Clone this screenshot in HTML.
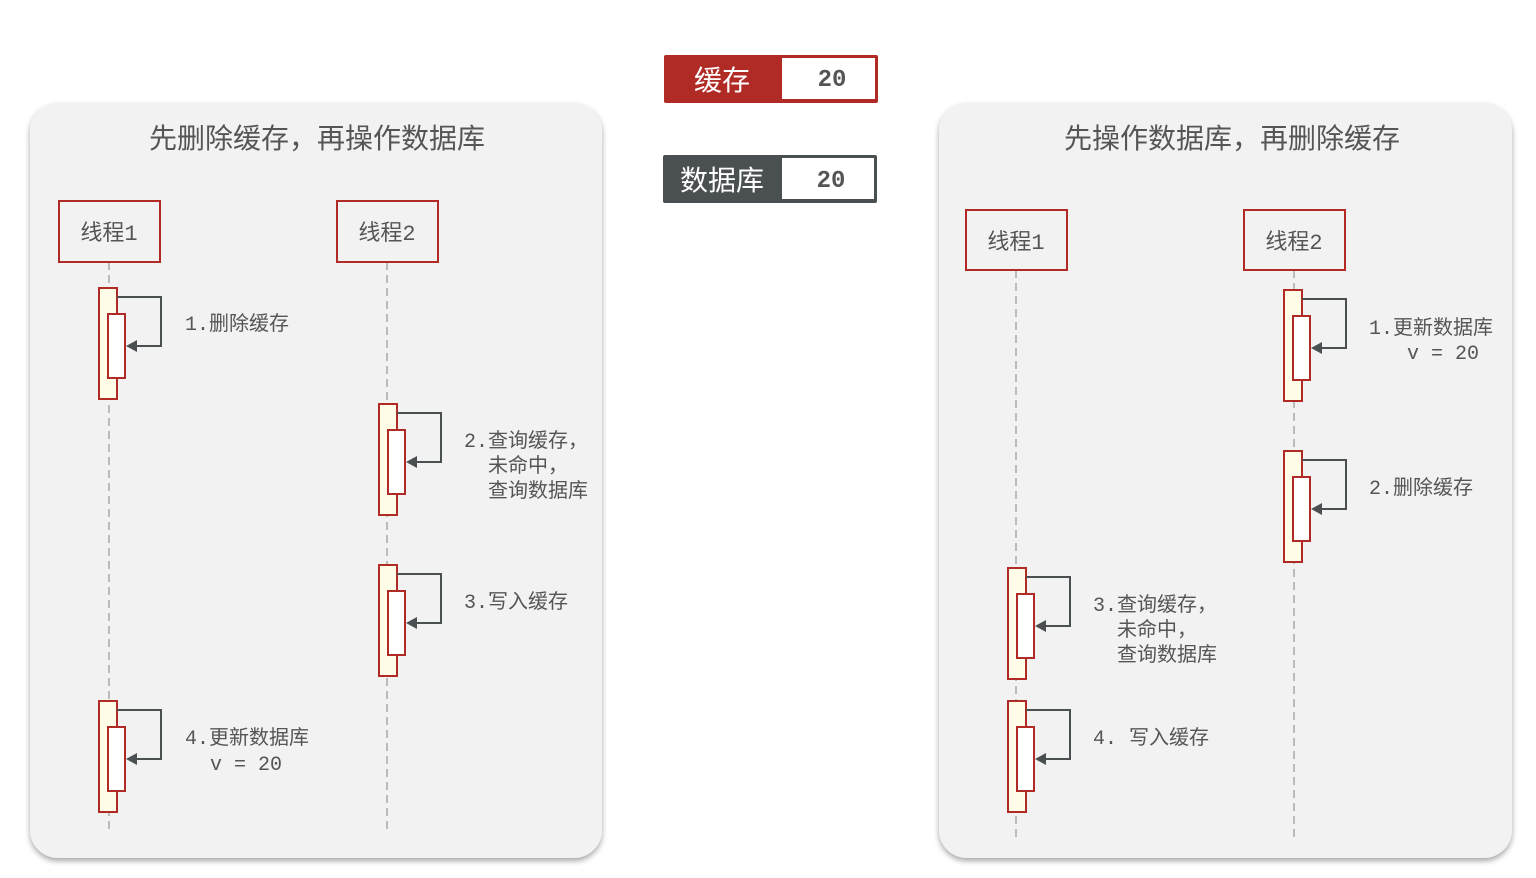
<!DOCTYPE html>
<html><head><meta charset="utf-8"><style>
body{margin:0;background:#fff;width:1536px;height:873px;overflow:hidden}
svg text{font-family:"Liberation Mono","Noto Sans CJK SC",monospace;fill:#555}
</style></head><body>
<svg width="1536" height="873" viewBox="0 0 1536 873" xmlns="http://www.w3.org/2000/svg">
<defs>
<filter id="sh" x="-5%" y="-5%" width="110%" height="110%"><feDropShadow dx="0" dy="3" stdDeviation="3" flood-color="#000" flood-opacity="0.35"/></filter>
<g id="act">
<rect x="0" y="0" width="18" height="111" fill="#fffde8" stroke="#b02a26" stroke-width="2"/>
<rect x="9" y="26" width="17" height="64" fill="#fff" stroke="#b02a26" stroke-width="2"/>
<path d="M18,9 H62 V58 H38" fill="none" stroke="#4a5052" stroke-width="2"/>
<path d="M27,58 L38,52 L38,64 Z" fill="#4a5052"/>
</g>
</defs>
<rect x="30" y="103" width="572" height="755" rx="28" fill="#f2f2f2" filter="url(#sh)"/>
<rect x="939" y="103" width="573" height="755" rx="28" fill="#f2f2f2" filter="url(#sh)"/>

<g font-size="28" text-anchor="middle">
<text x="317" y="148" style="font-family:'Liberation Sans','Noto Sans CJK SC',sans-serif">先删除缓存，再操作数据库</text>
<text x="1232" y="148" style="font-family:'Liberation Sans','Noto Sans CJK SC',sans-serif">先操作数据库，再删除缓存</text>
</g>

<rect x="664" y="55" width="214" height="48" fill="#b02a26" rx="2"/>
<rect x="782" y="58" width="93" height="41" fill="#fff"/>
<text x="722" y="90" font-size="28" text-anchor="middle" style="fill:#fff;font-family:'Liberation Sans','Noto Sans CJK SC',sans-serif">缓存</text>
<text x="832" y="86" font-size="24" font-weight="bold" text-anchor="middle" style="fill:#555">20</text>
<rect x="663" y="155" width="214" height="48" fill="#4a5052" rx="2"/>
<rect x="782" y="158" width="92" height="41" fill="#fff"/>
<text x="722" y="190" font-size="28" text-anchor="middle" style="fill:#fff;font-family:'Liberation Sans','Noto Sans CJK SC',sans-serif">数据库</text>
<text x="831" y="187" font-size="24" font-weight="bold" text-anchor="middle" style="fill:#555">20</text>

<g stroke="#bbb" stroke-width="2" stroke-dasharray="8,5">
<line x1="109" y1="262" x2="109" y2="832"/>
<line x1="387" y1="262" x2="387" y2="832"/>
<line x1="1016" y1="270" x2="1016" y2="840"/>
<line x1="1294" y1="270" x2="1294" y2="840"/>
</g>
<g fill="#f2f2f2" stroke="#b02a26" stroke-width="2">
<rect x="59" y="201" width="101" height="61"/>
<rect x="337" y="201" width="101" height="61"/>
<rect x="966" y="210" width="101" height="60"/>
<rect x="1244" y="210" width="101" height="60"/>
</g>
<g font-size="22" text-anchor="middle">
<text x="109" y="240">线程1</text>
<text x="387" y="240">线程2</text>
<text x="1016" y="249">线程1</text>
<text x="1294" y="249">线程2</text>
</g>

<use href="#act" x="99" y="288"/>
<use href="#act" x="379" y="404"/>
<use href="#act" x="379" y="565"/>
<use href="#act" x="99" y="701"/>
<use href="#act" x="1284" y="290"/>
<use href="#act" x="1284" y="451"/>
<use href="#act" x="1008" y="568"/>
<use href="#act" x="1008" y="701"/>

<g font-size="20">
<text x="185" y="330">1.删除缓存</text>
<text x="464" y="447">2.查询缓存，</text>
<text x="488" y="472">未命中，</text>
<text x="488" y="497">查询数据库</text>
<text x="464" y="608">3.写入缓存</text>
<text x="185" y="744">4.更新数据库</text>
<text x="210" y="770">v = 20</text>
<text x="1369" y="334">1.更新数据库</text>
<text x="1407" y="359">v = 20</text>
<text x="1369" y="494">2.删除缓存</text>
<text x="1093" y="611">3.查询缓存，</text>
<text x="1117" y="636">未命中，</text>
<text x="1117" y="661">查询数据库</text>
<text x="1093" y="744">4. 写入缓存</text>
</g>
</svg>
</body></html>
